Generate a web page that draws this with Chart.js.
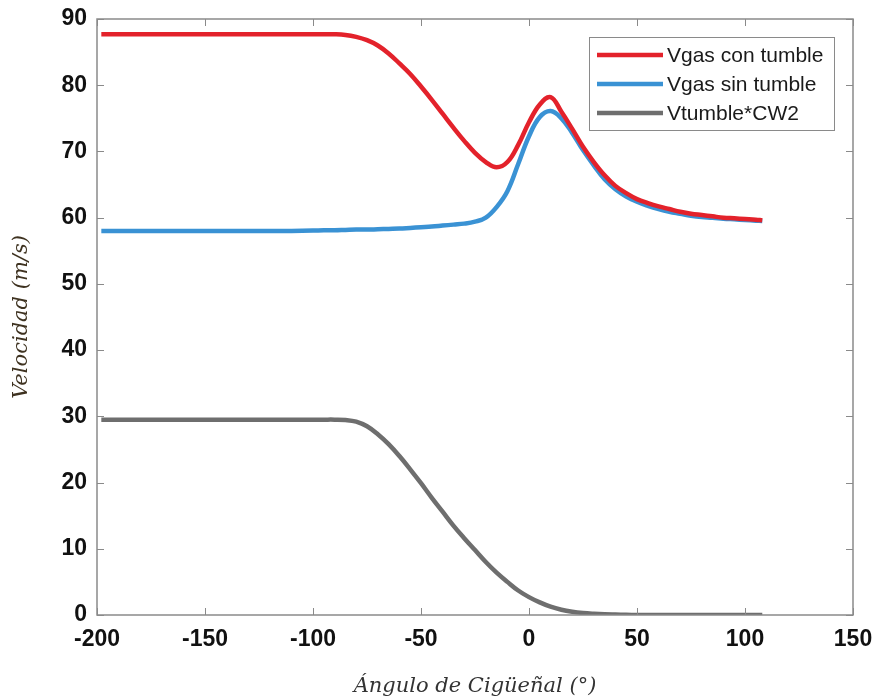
<!DOCTYPE html>
<html>
<head>
<meta charset="utf-8">
<script src="https://cdn.jsdelivr.net/npm/chart.js@4.4.1/dist/chart.umd.min.js"></script>
<style>
  html, body { margin: 0; padding: 0; background: #fff; }
  #wrap { width: 874px; height: 699px; }
</style>
</head>
<body>
<div id="wrap"><canvas id="velChart" width="874" height="699"></canvas></div>
<script>
// crank angle (deg)
const angles = [-198, -190, -180, -170, -160, -150, -140, -130, -120, -110, -100,
  -95, -90, -85, -80, -75, -70, -65, -60, -55, -50, -45, -40, -35, -30, -25, -20, -15, -10, -5,
  0, 5, 10, 15, 20, 25, 30, 35, 40, 45, 50, 55, 60, 65, 70, 75, 80, 85, 90, 95, 100, 105, 108];

// gas velocity with tumble (m/s)
const vgasCon = [87.7, 87.7, 87.7, 87.7, 87.7, 87.7, 87.7, 87.7, 87.7, 87.7, 87.7,
  87.7, 87.7, 87.6, 87.3, 86.8, 86.0, 84.8, 83.3, 81.7, 79.8, 77.8, 75.7, 73.6, 71.6, 69.8, 68.4, 67.6, 68.4, 71.0,
  74.4, 77.1, 78.2, 76.0, 73.4, 70.7, 68.4, 66.4, 64.8, 63.7, 62.8, 62.2, 61.7, 61.3, 60.9, 60.6, 60.4, 60.2, 60.0, 59.9, 59.8, 59.7, 59.6];

// gas velocity without tumble (m/s)
const vgasSin = [58.0, 58.0, 58.0, 58.0, 58.0, 58.0, 58.0, 58.0, 58.0, 58.0, 58.05,
  58.1, 58.1, 58.15, 58.2, 58.2, 58.25, 58.3, 58.35, 58.45, 58.55, 58.65, 58.8, 58.95, 59.1, 59.4, 60.0, 61.6, 64.0, 68.1,
  72.3, 75.2, 76.1, 75.0, 72.8, 70.2, 67.9, 65.8, 64.3, 63.2, 62.4, 61.8, 61.3, 60.9, 60.6, 60.3, 60.1, 60.0, 59.85, 59.75, 59.65, 59.55, 59.5];

// tumble velocity * CW2 (m/s)
const vtumble = [29.5, 29.5, 29.5, 29.5, 29.5, 29.5, 29.5, 29.5, 29.5, 29.5, 29.5,
  29.5, 29.5, 29.45, 29.2, 28.5, 27.3, 25.8, 24.0, 22.0, 19.9, 17.7, 15.6, 13.5, 11.6, 9.8, 8.0, 6.4, 5.0, 3.7,
  2.7, 1.9, 1.25, 0.8, 0.5, 0.3, 0.18, 0.1, 0.06, 0.03, 0.01, 0, 0, 0, 0, 0, 0, 0, 0, 0, 0, 0, 0];

const seriesNames = ['Vgas con tumble', 'Vgas sin tumble', 'Vtumble*CW2'];
const xTicks = [-200, -150, -100, -50, 0, 50, 100, 150];
const yTicks = [0, 10, 20, 30, 40, 50, 60, 70, 80, 90];

const toPoints = vals => angles.map((a, i) => ({ x: a, y: vals[i] }));

// box around plot with inward ticks on all four sides
const framePlugin = {
  id: 'frame',
  afterDraw(chart) {
    const { ctx, chartArea: a, scales } = chart;
    ctx.save();
    ctx.strokeStyle = '#8a8a8a';
    ctx.lineWidth = 1.5;
    ctx.strokeRect(a.left, a.top, a.right - a.left, a.bottom - a.top);
    ctx.lineWidth = 1;
    ctx.beginPath();
    xTicks.forEach(v => {
      const px = Math.round(scales.x.getPixelForValue(v)) + 0.5;
      ctx.moveTo(px, a.bottom); ctx.lineTo(px, a.bottom - 7);
      ctx.moveTo(px, a.top); ctx.lineTo(px, a.top + 7);
    });
    yTicks.forEach(v => {
      const py = Math.round(scales.y.getPixelForValue(v)) + 0.5;
      ctx.moveTo(a.left, py); ctx.lineTo(a.left + 7, py);
      ctx.moveTo(a.right, py); ctx.lineTo(a.right - 7, py);
    });
    ctx.stroke();
    ctx.restore();
  }
};

// legend box drawn inside the plot, top right
const boxLegend = {
  id: 'boxLegend',
  afterDraw(chart) {
    const { ctx } = chart;
    const x0 = 589, y0 = 37, w = 245, h = 93, rowH = 29;
    ctx.save();
    ctx.fillStyle = '#fff';
    ctx.fillRect(x0, y0, w, h);
    ctx.strokeStyle = '#8a8a8a';
    ctx.lineWidth = 1;
    ctx.strokeRect(x0 + 0.5, y0 + 0.5, w, h);
    ctx.font = '21px "Liberation Sans", Arial, sans-serif';
    ctx.textBaseline = 'middle';
    chart.data.datasets.forEach((ds, i) => {
      const y = y0 + 18 + i * rowH;
      ctx.strokeStyle = ds.borderColor;
      ctx.lineWidth = 4.5;
      ctx.beginPath();
      ctx.moveTo(x0 + 8, y); ctx.lineTo(x0 + 74, y);
      ctx.stroke();
      ctx.fillStyle = '#1a1a1a';
      ctx.fillText(ds.label, x0 + 78, y + 1);
    });
    ctx.restore();
  }
};

const lineStyle = color => ({
  borderColor: color,
  backgroundColor: color,
  borderWidth: 4.5,
  pointRadius: 0,
  tension: 0.4,
  fill: false
});

const tickFont = { family: '"Liberation Sans", Arial, sans-serif', size: 23, weight: 'bold' };
const titleFont = { family: '"DejaVu Serif", serif', size: 21, style: 'italic' };

new Chart(document.getElementById('velChart'), {
  type: 'line',
  data: {
    datasets: [
      { label: seriesNames[0], data: toPoints(vgasCon), ...lineStyle('#e3222b') },
      { label: seriesNames[1], data: toPoints(vgasSin), ...lineStyle('#3a92d4') },
      { label: seriesNames[2], data: toPoints(vtumble), ...lineStyle('#6e6e6e') }
    ]
  },
  options: {
    responsive: false,
    animation: false,
    layout: { padding: { top: 19, right: 21, left: 0, bottom: 0 } },
    plugins: { legend: { display: false }, tooltip: { enabled: false } },
    scales: {
      x: {
        type: 'linear',
        min: -200, max: 150,
        afterBuildTicks: s => { s.ticks = xTicks.map(v => ({ value: v })); },
        afterFit: s => { s.height = 84; s.paddingLeft = 0; s.paddingRight = 0; },
        grid: { display: false, drawTicks: false },
        border: { display: false },
        ticks: { font: tickFont, color: '#111', padding: 11, maxRotation: 0 },
        title: {
          display: true, text: 'Ángulo de Cigüeñal (°)',
          font: titleFont, color: '#333', padding: { top: 3, bottom: 0 }
        }
      },
      y: {
        min: 0, max: 90,
        afterBuildTicks: s => { s.ticks = yTicks.map(v => ({ value: v })); },
        afterFit: s => { s.width = 97; s.paddingTop = 0; s.paddingBottom = 0; },
        grid: { display: false, drawTicks: false },
        border: { display: false },
        ticks: { font: tickFont, color: '#111', padding: 10 },
        title: {
          display: true, text: 'Velocidad (m/s)',
          font: titleFont, color: '#3e3220', padding: { top: 9, bottom: 0 }
        }
      }
    }
  },
  plugins: [framePlugin, boxLegend]
});
</script>
</body>
</html>
